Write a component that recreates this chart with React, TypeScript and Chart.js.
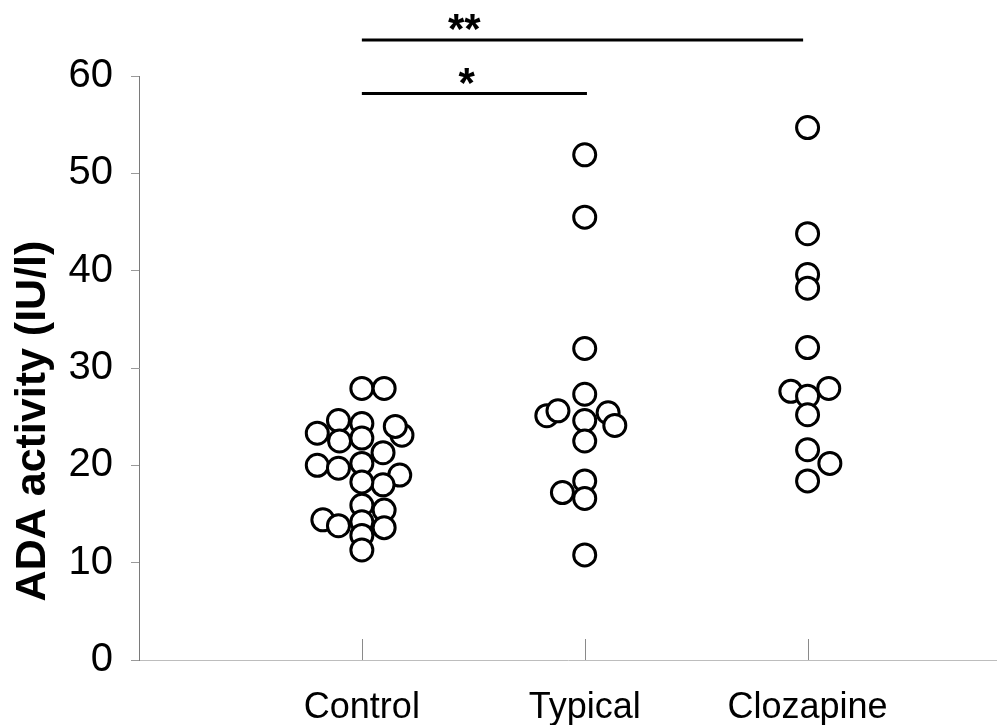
import React, { useEffect, useRef } from 'react';
import { Chart, registerables } from 'chart.js';

Chart.register(...registerables);

const categories = ['Control', 'Typical', 'Clozapine'];
const yAxisTitle = 'ADA activity (IU/l)';

const controlValues = [27.9, 27.9, 23.3, 24.6, 24.3, 23.1, 24.0, 22.8, 22.5, 21.3, 20.0, 19.7, 20.2, 19.0, 18.0, 18.3, 15.9, 15.4, 14.4, 13.8, 14.2, 13.6, 12.8, 11.3];
const controlOffsets = [0, 0.1, -0.2, -0.105, 0, 0.18, 0.15, 0, -0.1, 0.095, -0.2, -0.105, 0, 0.17, 0.095, 0, 0, 0.1, -0.175, -0.105, 0, 0.1, 0, 0];

const typicalValues = [51.9, 45.5, 32.0, 24.6, 27.3, 25.1, 25.6, 25.4, 24.1, 22.5, 17.2, 18.4, 16.6, 10.8];
const typicalOffsets = [0, 0, 0, 0, 0, -0.17, -0.12, 0.105, 0.135, 0, -0.1, 0, 0, 0];

const clozapineValues = [54.7, 43.8, 39.6, 38.2, 32.1, 27.6, 27.9, 27.1, 25.2, 21.6, 20.2, 18.4];
const clozapineOffsets = [0, 0, 0, 0, 0, -0.075, 0.095, 0, 0, 0, 0.1, 0];

const sigLabels = ['**', '*'];
const sigFrom = [1, 1];
const sigTo = [2.98, 2.01];
const sigLevels = [63.7, 58.2];
const sigLabelAt = [1.46, 1.47];

const groups = [
  { values: controlValues, offsets: controlOffsets },
  { values: typicalValues, offsets: typicalOffsets },
  { values: clozapineValues, offsets: clozapineOffsets },
];

const FONT = "'Liberation Sans', Arial, sans-serif";

const overlayPlugin = {
  id: 'overlay',
  beforeDatasetsDraw(chart: any) {
    const { ctx, chartArea, scales } = chart;
    const x = scales.x;
    ctx.save();
    ctx.strokeStyle = '#8a8a8a';
    ctx.lineWidth = 1;
    categories.forEach((_, i) => {
      const px = Math.round(x.getPixelForValue(i + 1)) + 0.5;
      ctx.beginPath();
      ctx.moveTo(px, chartArea.bottom);
      ctx.lineTo(px, chartArea.bottom - 21);
      ctx.stroke();
    });
    ctx.restore();
  },
  afterDraw(chart: any) {
    const { ctx, scales } = chart;
    const x = scales.x;
    const y = scales.y;
    ctx.save();
    ctx.strokeStyle = '#000';
    ctx.fillStyle = '#000';
    ctx.lineWidth = 3;
    sigLabels.forEach((label, i) => {
      const py = y.getPixelForValue(sigLevels[i]);
      ctx.beginPath();
      ctx.moveTo(x.getPixelForValue(sigFrom[i]), py);
      ctx.lineTo(x.getPixelForValue(sigTo[i]), py);
      ctx.stroke();
      ctx.font = `bold 42px ${FONT}`;
      ctx.textAlign = 'center';
      ctx.textBaseline = 'alphabetic';
      ctx.fillText(label, x.getPixelForValue(sigLabelAt[i]), py + 3);
    });
    ctx.translate(33, 421);
    ctx.rotate(-Math.PI / 2);
    ctx.font = `bold 43px ${FONT}`;
    ctx.textAlign = 'center';
    ctx.textBaseline = 'middle';
    ctx.fillText(yAxisTitle, 0, 0);
    ctx.restore();
  },
};

export default function App() {
  const canvasRef = useRef<HTMLCanvasElement | null>(null);

  useEffect(() => {
    document.body.style.margin = '0';
    const canvas = canvasRef.current;
    if (!canvas) return;
    const datasets = groups.map((g, gi) => ({
      label: categories[gi],
      data: g.values.map((v, i) => ({ x: gi + 1 + g.offsets[i], y: v })),
      pointRadius: 11,
      pointHoverRadius: 11,
      pointBorderWidth: 3,
      pointBackgroundColor: '#ffffff',
      pointBorderColor: '#000000',
      showLine: false,
    }));
    const chart = new Chart(canvas, {
      type: 'scatter',
      data: { datasets },
      options: {
        animation: false,
        responsive: false,
        devicePixelRatio: 1,
        layout: { autoPadding: false, padding: { top: 76, right: 0, left: 0, bottom: 0 } },
        plugins: { legend: { display: false }, tooltip: { enabled: false } },
        scales: {
          x: {
            type: 'linear',
            min: 0,
            max: 3.85,
            afterBuildTicks: (s: any) => {
              s.ticks = categories.map((_, i) => ({ value: i + 1 }));
            },
            afterFit: (s: any) => {
              s.height = 65;
              s.paddingLeft = 0;
              s.paddingRight = 0;
            },
            ticks: {
              autoSkip: false,
              maxRotation: 0,
              padding: 26,
              color: '#000',
              font: { family: FONT, size: 36 },
              callback: (v: any) => categories[Math.round(v) - 1] ?? '',
            },
            grid: { display: true, drawOnChartArea: false, drawTicks: false },
            border: { color: '#bdbdbd', width: 1, dash: [2, 3] },
          },
          y: {
            min: 0,
            max: 60,
            afterFit: (s: any) => {
              s.width = 139;
            },
            ticks: {
              stepSize: 10,
              padding: 18,
              color: '#000',
              font: { family: FONT, size: 40 },
            },
            grid: { drawOnChartArea: false, tickLength: 8, color: '#9a9a9a' },
            border: { color: '#7a7a7a', width: 1 },
          },
        },
      },
      plugins: [overlayPlugin],
    });
    return () => chart.destroy();
  }, []);

  return (
    <div style={{ position: 'fixed', left: 0, top: 0, width: 997, height: 725, background: '#fff' }}>
      <canvas ref={canvasRef} width={997} height={725} />
    </div>
  );
}
